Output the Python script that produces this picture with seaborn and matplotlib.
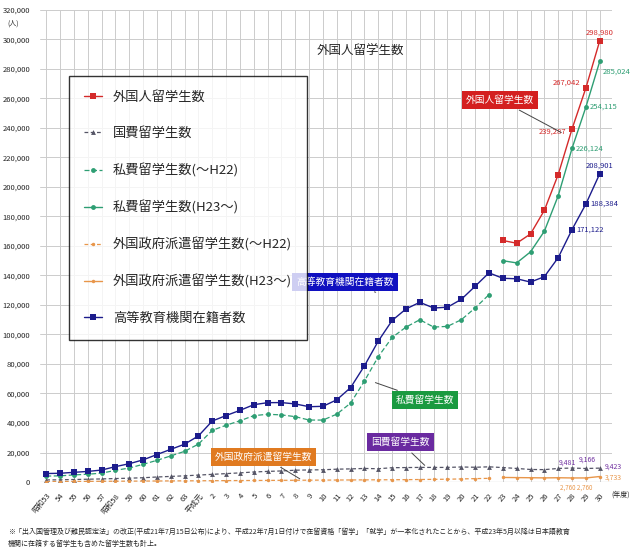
import numpy as np
import pandas as pd
import matplotlib.pyplot as plt
import seaborn as sns

sns.set_theme(style='whitegrid')
plt.rcParams['font.family'] = ['Noto Sans CJK JP', 'DejaVu Sans']

years = ['昭和53', '54', '55', '56', '57', '昭和58', '59', '60', '61', '62', '63', '平成元'] + [str(i) for i in range(2, 31)]

# 高等教育機関在籍者数 (昭和53〜平成30)
higher_ed = [5755, 5933, 6572, 7179, 8116, 10428, 12410, 15009, 18631, 22154, 25643, 31251, 41347,
             45066, 48561, 52405, 53787, 53847, 52921, 51047, 51298, 55755, 64011, 78812, 95550,
             109508, 117302, 121812, 117927, 118498, 123829, 132720, 141774, 138075, 137756,
             135519, 139185, 152062, 171122, 188384, 208901]
# 外国人留学生数 (平成23〜)
total = [163697, 161848, 168145, 184155, 208379, 239287, 267042, 298980]
# 国費留学生数
govt = [1400, 1500, 1700, 1900, 2100, 2350, 2600, 2900, 3400, 3800, 4200, 4700, 5200, 5700, 6200,
        6800, 7200, 7500, 8000, 8200, 8300, 8700, 8900, 9200, 9000, 9700, 9800, 9900, 9900, 9900,
        10200, 10000, 10300, 9800, 9200, 8500, 8400, 9200, 9481, 9166, 9423]
# 私費留学生数 (〜H22)
private_old = [4000, 4200, 4800, 5300, 6000, 7900, 9500, 12000, 14700, 17700, 20800, 25700, 35000,
               38500, 41500, 45000, 45900, 45500, 44300, 42000, 42000, 46000, 53500, 68500, 85000,
               98000, 105000, 110000, 105000, 105500, 110000, 118000, 127000]
# 私費留学生数 (H23〜)
private_new = [150000, 148500, 156000, 170000, 194000, 226124, 254115, 285024]
# 外国政府派遣留学生数
foreign_gov_old = [300, 350, 400, 450, 500, 550, 600, 650, 700, 750, 800, 850, 900, 950, 1000, 1050,
                   1100, 1150, 1200, 1250, 1300, 1350, 1400, 1450, 1500, 1550, 1600, 1700, 1800,
                   1900, 2100, 2300, 2500]
foreign_gov_new = [3100, 3000, 2900, 2800, 2900, 2760, 2760, 3733]

x = np.arange(len(years))
idx_new = x[33:]
idx_old = x[:33]

fig = plt.figure(figsize=(6.4, 5.49), dpi=100)
ax = fig.add_axes([0.0625, 0.122, 0.894, 0.86])

red, navy, green, gray, orange = '#d42a2a', '#1c1c8c', '#2e9e73', '#555566', '#e8964a'

sns.lineplot(x=idx_new, y=total, ax=ax, color=red, marker='s', markersize=4, lw=1,
             markeredgewidth=0, label='外国人留学生数')
sns.lineplot(x=x, y=govt, ax=ax, color=gray, marker='^', markersize=3.5, lw=0.9,
             linestyle=(0, (3, 2)), markeredgewidth=0, label='国費留学生数')
sns.lineplot(x=idx_old, y=private_old, ax=ax, color=green, marker='o', markersize=3.5, lw=0.9,
             linestyle=(0, (4, 2)), markeredgewidth=0, label='私費留学生数(〜H22)')
sns.lineplot(x=idx_new, y=private_new, ax=ax, color=green, marker='o', markersize=3.5, lw=1,
             markeredgewidth=0, label='私費留学生数(H23〜)')
sns.lineplot(x=idx_old, y=foreign_gov_old, ax=ax, color=orange, marker='o', markersize=2.5, lw=0.9,
             linestyle=(0, (3, 2)), markeredgewidth=0, label='外国政府派遣留学生数(〜H22)')
sns.lineplot(x=idx_new, y=foreign_gov_new, ax=ax, color=orange, marker='o', markersize=2.5, lw=1,
             markeredgewidth=0, label='外国政府派遣留学生数(H23〜)')
sns.lineplot(x=x, y=higher_ed, ax=ax, color=navy, marker='s', markersize=4, lw=1,
             markeredgewidth=0, label='高等教育機関在籍者数')

ax.set_xlim(-0.45, 40.9)
ax.set_ylim(0, 320000)
ax.set_yticks(np.arange(0, 320001, 20000))
ax.yaxis.set_major_formatter(plt.FuncFormatter(lambda v, p: f'{int(v):,}'))
ax.set_xticks(x)
ax.set_xticklabels(years, rotation=50, ha='right', rotation_mode='anchor')
ax.tick_params(axis='both', labelsize=5.5, pad=1)
ax.grid(color='#cccccc', lw=0.7)
for s in ax.spines.values():
    s.set_visible(False)
ax.axhline(0, color='#888888', lw=0.8)

leg = ax.legend(loc='upper left', bbox_to_anchor=(0.04, 0.873), fontsize=9.5, labelspacing=1.75,
                handlelength=1.4, borderpad=1.1, frameon=True, fancybox=False)
leg.get_frame().set_edgecolor('black')
leg.get_frame().set_linewidth(1)

ax.text(0.56, 0.905, '外国人留学生数', transform=ax.transAxes, ha='center', fontsize=9)
fig.text(0.012, 0.953, '(人)', fontsize=5)
fig.text(0.955, 0.095, '(年度)', fontsize=5)

# data labels
ax.text(40, total[-1] + 4000, '298,980', color=red, fontsize=5.5, ha='center')
ax.text(38.6, total[-2] + 2000, '267,042', color=red, fontsize=5.5, ha='right')
ax.text(37.6, total[-3] - 2000, '239,287', color=red, fontsize=5.5, ha='right', va='center')
ax.text(40.2, private_new[-1] - 8000, '285,024', color=green, fontsize=5.5, ha='left')
ax.text(39.3, private_new[-2], '254,115', color=green, fontsize=5.5, ha='left', va='center')
ax.text(38.3, private_new[-3], '226,124', color=green, fontsize=5.5, ha='left', va='center')
ax.text(40, higher_ed[-1] + 4000, '208,901', color=navy, fontsize=5.5, ha='center')
ax.text(39.3, higher_ed[-2], '188,384', color=navy, fontsize=5.5, ha='left', va='center')
ax.text(38.3, higher_ed[-3], '171,122', color=navy, fontsize=5.5, ha='left', va='center')
ax.text(37.7, 11500, '9,481', color='#7030a0', fontsize=5, ha='center')
ax.text(39.1, 13500, '9,166', color='#7030a0', fontsize=5, ha='center')
ax.text(40.4, 10500, '9,423', color='#7030a0', fontsize=5, ha='left', va='center')
ax.text(40.4, 3200, '3,733', color=orange, fontsize=5, ha='left', va='center')
ax.text(38.3, -800, '2,760 2,760', color=orange, fontsize=4.5, ha='center', va='top')

def tag(xp, yp, txt, fc, xa, ya):
    ax.annotate(txt, xy=(xa, ya), xytext=(xp, yp), color='white', fontsize=7, ha='center', va='center',
                bbox=dict(boxstyle='square,pad=0.4', fc=fc, ec='none'),
                arrowprops=dict(arrowstyle='-', color='#444444', lw=0.7))

tag(32.8, 259000, '外国人留学生数', '#d42020', 37.4, 236000)
tag(21.6, 135500, '高等教育機関在籍者数', '#1010c0', 24, 128000)
tag(27.4, 55500, '私費留学生数', '#1a9a40', 23.6, 68000)
tag(25.6, 27000, '国費留学生数', '#6a2aa0', 27.5, 10000)
tag(15.7, 17000, '外国政府派遣留学生数', '#e07a20', 18.5, 1200)

fig.text(0.012, 0.028, '※「出入国管理及び難民認定法」の改正(平成21年7月15日公布)により、平成22年7月1日付けで在留資格「留学」「就学」が一本化されたことから、平成23年5月以降は日本語教育',
         fontsize=5)
fig.text(0.012, 0.005, '機関に在籍する留学生も含めた留学生数も計上。', fontsize=5)

fig.savefig('out.png', dpi=100)
